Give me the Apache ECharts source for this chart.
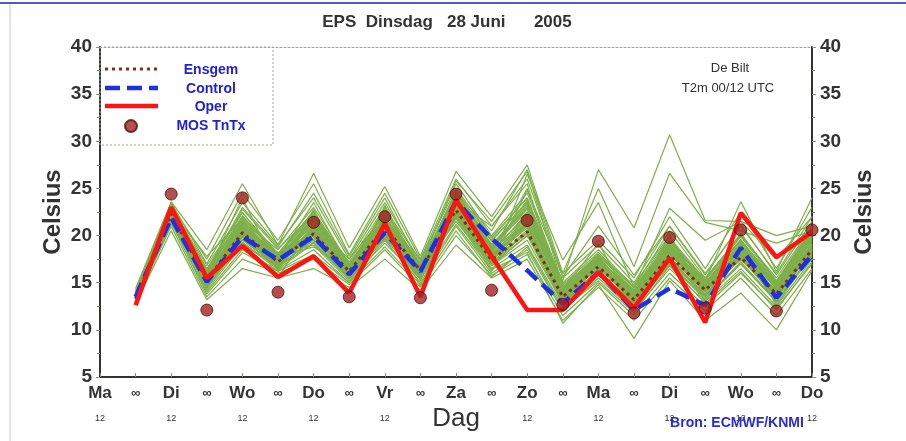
<!DOCTYPE html>
<html>
<head>
<meta charset="utf-8">
<script src="https://cdn.jsdelivr.net/npm/echarts@6/dist/echarts.min.js"></script>
<style>
html,body{margin:0;padding:0;background:#fff;}
#c{width:906px;height:441px;}
</style>
</head>
<body>
<div id="c"></div>
<script>
// ---- data ----
const categories = ["Ma","∞","Di","∞","Wo","∞","Do","∞","Vr","∞","Za","∞","Zo","∞","Ma","∞","Di","∞","Wo","∞","Do"];
const subLabels  = ["12","","12","","12","","12","","12","","","","12","","12","","12","","12","","12"];
const yTicks = [5,10,15,20,25,30,35,40];

const ensgem  = [null,13.3,22.3,15.3,20.3,17.2,20.2,16.2,20.9,16.3,22.7,17.4,20.4,13.5,16.7,13.2,17.9,14.2,17.7,13.8,18.5];
const control = [null,13.5,21.9,15.1,19.9,17.4,19.9,15.9,20.3,16.2,23.6,19.7,16.3,12.8,16.1,12.1,14.4,12.6,18.7,13.4,17.9];
const oper    = [null,12.6,23.0,15.5,18.9,15.6,17.8,13.9,21.3,13.5,23.8,17.8,12.1,12.1,16.1,12.3,17.6,10.8,22.4,17.7,20.4];
const mosTnTx = [null,null,24.4,12.1,24.0,14.0,21.4,13.5,22.0,13.4,24.4,14.2,21.6,12.7,19.4,11.8,19.8,12.3,20.6,12.0,20.6];

// ensemble members (values from the first 00 UTC step onwards)
const ensembleMembers = [
 [13.5,22.5,15.0,21.0,17.5,21.5,16.2,21.5,16.0,23.5,18.0,21.0,13.0,17.0,13.0,18.5,14.0,18.0,14.0,19.0],
 [13.0,21.8,14.5,19.5,16.8,19.5,15.5,20.0,15.5,22.0,16.5,19.0,12.5,16.0,12.5,17.0,13.5,17.0,13.0,18.0],
 [13.8,23.0,16.0,22.0,18.0,22.5,16.8,22.0,16.8,24.5,19.0,22.5,14.0,17.5,14.0,19.0,14.8,19.0,14.5,19.5],
 [12.9,21.5,14.0,18.5,16.3,18.5,15.0,19.5,15.0,21.0,16.0,18.5,12.0,15.5,12.0,16.5,13.0,16.5,12.5,17.5],
 [14.0,23.5,17.0,23.5,19.0,24.0,17.5,23.5,17.2,25.5,20.0,24.5,15.0,18.5,14.5,20.5,15.5,20.0,15.5,21.0],
 [13.3,22.0,15.5,20.5,17.0,20.5,16.5,21.0,16.5,23.0,17.0,20.0,13.5,16.5,13.5,18.0,14.5,18.5,14.0,18.5],
 [13.6,22.8,16.5,21.5,18.5,23.0,17.0,22.5,17.0,24.0,19.5,23.5,14.5,18.0,14.0,19.5,15.0,19.5,15.0,20.0],
 [13.1,21.0,13.5,17.5,16.0,17.5,14.8,18.5,14.5,20.0,15.8,18.0,11.5,15.0,11.5,16.0,12.5,16.0,12.3,17.0],
 [14.2,23.2,17.5,24.5,19.5,25.5,18.0,24.5,17.5,26.0,21.0,26.0,15.5,19.0,15.0,21.0,16.0,21.0,16.0,22.0],
 [13.4,22.2,14.8,20.0,17.2,20.0,15.8,20.5,15.8,22.5,17.5,21.5,13.0,17.2,13.5,18.2,14.2,18.0,13.5,18.8],
 [13.7,22.6,15.8,21.2,17.8,21.0,16.4,21.8,16.4,23.8,18.5,22.0,14.2,16.8,12.8,17.5,13.8,17.5,14.2,19.2],
 [12.8,20.5,13.2,16.5,15.5,16.5,14.5,17.5,14.2,19.0,15.5,17.5,11.0,14.5,11.0,15.5,12.0,15.5,11.5,16.5],
 [14.4,23.6,18.5,25.5,19.0,26.6,18.7,25.2,17.8,26.8,22.0,27.5,16.0,19.5,15.5,22.0,16.5,22.5,16.5,23.0],
 [13.2,22.4,15.2,19.8,16.5,21.8,16.0,21.2,16.6,24.2,18.2,25.0,14.5,18.0,14.5,19.0,15.5,19.5,14.5,20.5],
 [13.5,21.6,16.2,20.8,18.2,19.0,15.2,19.8,16.2,21.5,16.8,19.5,12.8,15.8,12.2,17.2,13.2,17.0,13.0,17.8],
 [13.0,22.0,14.2,19.0,16.8,22.0,17.2,23.0,15.2,22.8,17.8,21.8,13.8,16.4,13.8,18.8,14.6,20.2,15.2,20.2],
 [13.9,23.0,16.8,22.5,17.6,23.5,16.6,22.8,17.4,25.0,19.8,24.0,13.2,17.8,14.8,20.0,13.5,18.8,13.8,19.8],
 [13.4,22.1,15.6,20.6,17.4,20.8,16.1,21.1,16.1,23.2,18.8,23.0,15.2,27.0,20.8,30.7,21.6,21.5,20.0,21.0],
 [13.6,22.7,15.4,21.8,17.0,20.0,15.6,20.2,15.6,22.2,17.2,24.8,16.0,25.0,16.7,26.6,21.4,20.5,19.2,20.5],
 [13.2,22.2,15.0,20.2,16.6,19.8,16.0,20.6,16.0,22.0,17.0,26.5,17.4,23.5,14.5,22.9,19.5,21.5,17.5,22.0],
 [13.3,21.9,14.6,19.2,16.4,19.2,15.4,19.2,15.4,21.2,16.4,18.2,10.7,14.8,9.1,15.2,11.0,13.9,10.0,16.3],
 [13.8,22.9,16.4,22.8,18.6,22.2,16.9,21.9,16.9,24.6,20.5,27.0,15.6,21.0,15.8,21.0,15.8,21.2,15.8,21.5],
 [13.1,21.4,13.8,18.2,16.2,18.0,15.0,18.8,14.8,20.5,15.6,18.8,12.2,15.2,11.8,16.8,12.8,16.2,12.1,17.2],
 [13.5,22.3,15.3,20.4,17.1,20.4,16.2,20.8,16.3,22.9,17.5,20.2,13.5,16.6,13.3,18.0,14.3,17.8,13.9,18.6],
 [12.9,21.2,16.0,23.0,18.8,24.5,17.8,24.0,16.8,25.8,21.5,26.8,14.8,17.6,12.6,19.4,13.0,18.4,12.8,19.0],
 [13.6,22.6,17.8,21.8,15.6,21.2,17.5,22.2,14.6,23.6,21.0,25.5,13.0,16.0,13.8,18.6,15.2,23.6,16.2,24.0],
 [13.2,22.0,14.4,20.8,17.8,18.8,16.6,19.6,15.9,21.8,16.2,22.5,14.2,19.2,12.4,20.2,12.4,19.2,12.6,18.2],
 [14.0,23.4,15.9,24.0,16.2,22.8,15.4,23.2,16.2,24.8,18.6,21.2,12.6,17.4,14.2,17.6,13.6,18.6,14.6,20.8],
 [13.4,22.4,15.1,20.1,17.3,20.6,16.3,21.3,16.2,23.3,17.9,20.8,13.6,16.9,13.1,18.3,14.1,17.6,13.7,18.4],
 [13.3,22.1,15.4,20.7,17.0,20.1,15.9,20.7,16.4,22.6,17.4,21.4,13.3,16.2,12.9,17.6,14.4,17.4,14.0,18.7],
 [13.4,22.6,15.6,21.4,17.6,21.8,16.6,21.6,16.6,24.0,18.6,22.8,14.0,17.4,13.6,18.6,14.6,18.8,14.4,19.6],
 [13.2,21.9,14.9,20.6,17.1,20.9,16.0,20.9,15.9,22.9,17.6,21.6,13.4,16.8,13.0,17.8,14.0,18.2,13.6,18.9],
 [13.7,22.9,16.2,22.1,17.9,22.3,16.8,22.3,16.9,24.4,19.4,23.6,14.6,17.9,14.2,19.6,15.2,19.9,15.1,20.6],
 [13.1,21.7,14.6,19.6,16.7,19.6,15.6,20.1,15.6,22.3,17.1,20.6,13.1,16.3,12.7,17.3,13.6,17.6,13.3,18.3],
 [13.5,22.4,15.2,20.9,17.4,21.4,16.3,21.4,16.3,23.6,18.3,22.2,13.8,17.1,13.4,18.4,14.4,18.6,14.3,19.4],
 [13.6,22.8,15.9,21.6,17.7,21.9,16.7,21.9,16.7,23.9,18.9,23.2,14.3,17.6,13.9,19.1,14.8,19.3,14.7,20.1],
 [13.3,22.1,15.1,20.3,17.0,20.7,15.9,20.7,16.0,22.7,17.7,21.2,13.2,16.6,13.2,17.7,14.1,17.9,13.8,18.7],
 [13.8,23.1,16.4,22.4,18.1,22.6,16.9,22.6,16.9,24.6,19.7,24.0,14.8,18.2,14.4,19.8,15.3,20.2,15.2,20.8],
 [13.0,21.6,14.4,19.3,16.6,19.3,15.4,19.7,15.4,21.9,16.8,20.0,12.8,15.9,12.4,16.9,13.3,17.2,13.1,17.9],
 [13.4,22.5,15.5,21.1,17.5,21.2,16.4,21.1,16.4,23.4,18.1,22.4,13.9,17.3,13.7,18.7,14.5,18.9,14.6,19.8],
 [13.5,22.3,15.7,20.7,17.3,21.6,16.5,21.7,16.2,23.1,18.4,23.8,14.4,17.8,13.5,18.9,14.9,19.6,14.8,20.3],
 [13.2,22.0,14.8,20.0,16.9,20.3,15.8,20.4,15.8,22.4,17.3,21.0,13.6,17.0,13.1,18.1,14.3,18.4,13.9,19.1],
 [13.6,22.7,16.1,21.9,17.9,22.1,16.6,22.0,16.7,24.2,19.1,22.9,14.1,17.5,14.1,19.3,15.0,19.0,14.9,20.4],
 [13.3,22.2,15.3,20.5,17.2,20.9,16.1,21.0,16.1,23.0,17.9,22.0,13.7,17.2,13.4,18.2,14.2,18.1,14.1,19.0],
 [13.7,22.6,15.8,21.3,17.5,21.7,16.4,21.5,16.5,23.7,18.7,23.4,14.2,17.7,13.8,18.9,14.7,19.1,14.5,19.9],
 [13.1,21.8,14.7,19.9,16.8,20.2,15.7,20.3,15.7,22.1,17.0,20.4,12.9,16.1,12.8,17.4,13.7,17.8,13.4,18.5]
];

// ---- chart ----
const chart = echarts.init(document.getElementById('c'), null, {renderer:'canvas'});

const memberSeries = ensembleMembers.map((m, i) => ({
  name: 'member' + i,
  type: 'line',
  data: [null].concat(m),
  symbol: 'none',
  silent: true,
  lineStyle: {color: '#7db04a', width: 1.2},
  z: 1,
  animation: false
}));

const fontFam = '"Liberation Sans", Arial, Helvetica, sans-serif';

const yAxisCommon = {
  type: 'value', min: 5, max: 40, interval: 5,
  splitLine: {show: false},
  axisLine: {show: true, lineStyle: {color: '#333', width: 2}},
  axisTick: {show: true, length: 4, lineStyle: {color: '#7a9a70'}},
  minorTick: {show: true, splitNumber: 2, length: 3, lineStyle: {color: '#7a9a70'}},
  axisLabel: {color: '#333', fontSize: 19, fontWeight: 'bold', fontFamily: fontFam, margin: 8,
    formatter: v => (yTicks.indexOf(v) >= 0 ? String(v) : '')}
};

const ensStyle = {color: '#8a2a1c', width: 3, type: [3, 4]};
const ctlStyle = {color: '#1f2fe6', width: 4.5, type: [15, 7]};
const opStyle  = {color: '#ff1414', width: 4.5};

const option = {
  animation: false,
  backgroundColor: '#fff',
  grid: {left: 100, right: 94, top: 47, bottom: 64},
  legend: {
    data: [
      {name: 'Ensgem', icon: 'none'},
      {name: 'Control', icon: 'none'},
      {name: 'Oper', icon: 'none'},
      {name: 'MOS TnTx'}
    ],
    orient: 'vertical',
    left: 104, top: 63,
    itemWidth: 54, itemHeight: 12, itemGap: 4.7,
    padding: 0,
    textStyle: {
      fontFamily: fontFam,
      rich: {n: {width: 96, align: 'center', color: '#2020d8', fontSize: 14, fontWeight: 'bold', fontFamily: fontFam, lineHeight: 12}}
    },
    formatter: name => '{n|' + name + '}'
  },
  xAxis: [{
    type: 'category', data: categories, boundaryGap: false,
    axisLine: {show: true, lineStyle: {color: '#333', width: 2}},
    axisTick: {show: true, inside: true, length: 4, lineStyle: {color: '#7a9a70'}},
    splitLine: {show: false},
    axisLabel: {
      interval: 0, margin: 6,
      formatter: (v, i) => v === '∞'
        ? '{o|∞}'
        : '{d|' + v + '}\n{s|' + subLabels[i] + '}',
      rich: {
        d: {fontSize: 17, fontWeight: 'bold', color: '#333', fontFamily: fontFam, lineHeight: 20},
        o: {fontSize: 13, fontWeight: 'bold', color: '#333', fontFamily: fontFam, lineHeight: 20},
        s: {fontSize: 9, color: '#333', fontFamily: fontFam, lineHeight: 32, verticalAlign: 'middle'}
      }
    }
  }, {
    type: 'category', data: categories, boundaryGap: false, position: 'top',
    axisLine: {show: true, lineStyle: {color: '#9aa89a', width: 1, type: [2, 2]}},
    axisTick: {show: false}, axisLabel: {show: false}
  }],
  yAxis: [
    Object.assign({}, yAxisCommon, {position: 'left'}),
    Object.assign({}, yAxisCommon, {position: 'right'})
  ],
  series: memberSeries.concat([
    {name: 'Ensgem', type: 'line', data: ensgem, symbol: 'none', z: 3, lineStyle: ensStyle, itemStyle: {color: ensStyle.color}},
    {name: 'Control', type: 'line', data: control, symbol: 'none', z: 4, lineStyle: ctlStyle, itemStyle: {color: ctlStyle.color}},
    {name: 'Oper', type: 'line', data: oper, symbol: 'none', z: 5, lineStyle: opStyle, itemStyle: {color: opStyle.color}},
    {
      name: 'MOS TnTx', type: 'scatter', data: mosTnTx, symbol: 'circle', symbolSize: 12, z: 6,
      itemStyle: {color: '#a52222', borderColor: '#4a1010', borderWidth: 1}
    }
  ]),
  graphic: [
    {type: 'line', shape: {x1: 0, y1: 3, x2: 906, y2: 3}, style: {stroke: '#4a5ad8', lineWidth: 2}, silent: true},
    {type: 'line', shape: {x1: 10, y1: 4, x2: 10, y2: 441}, style: {stroke: '#c8c8c8', lineWidth: 1}, silent: true},
    {type: 'rect', shape: {x: 100, y: 47, width: 173, height: 98}, z: 100,
      style: {fill: 'none', stroke: '#9aaa90', lineWidth: 1, lineDash: [2, 2]}, silent: true},
    {type: 'line', shape: {x1: 105, y1: 69, x2: 158, y2: 69}, z: 100,
      style: {stroke: ensStyle.color, lineWidth: ensStyle.width, lineDash: ensStyle.type}, silent: true},
    {type: 'line', shape: {x1: 105, y1: 88, x2: 158, y2: 88}, z: 100,
      style: {stroke: ctlStyle.color, lineWidth: ctlStyle.width, lineDash: ctlStyle.type}, silent: true},
    {type: 'line', shape: {x1: 105, y1: 106, x2: 158, y2: 106}, z: 100,
      style: {stroke: opStyle.color, lineWidth: opStyle.width}, silent: true},
    {type: 'text', x: 447, y: 22, z: 100,
      style: {text: 'EPS  Dinsdag   28 Juni      2005', font: 'bold 17px ' + fontFam, fill: '#333',
        textAlign: 'center', textVerticalAlign: 'middle'}},
    {type: 'text', x: 730, y: 68, z: 100,
      style: {text: 'De Bilt', font: '13px ' + fontFam, fill: '#333', textAlign: 'center', textVerticalAlign: 'middle'}},
    {type: 'text', x: 728, y: 88, z: 100,
      style: {text: 'T2m 00/12 UTC', font: '13px ' + fontFam, fill: '#333', textAlign: 'center', textVerticalAlign: 'middle'}},
    {type: 'text', x: 53, y: 212, rotation: Math.PI / 2, z: 100,
      style: {text: 'Celsius', font: 'bold 24px ' + fontFam, fill: '#333', textAlign: 'center', textVerticalAlign: 'middle'}},
    {type: 'text', x: 864, y: 212, rotation: Math.PI / 2, z: 100,
      style: {text: 'Celsius', font: 'bold 24px ' + fontFam, fill: '#333', textAlign: 'center', textVerticalAlign: 'middle'}},
    {type: 'text', x: 456, y: 419, z: 100,
      style: {text: 'Dag', font: '26px ' + fontFam, fill: '#333', textAlign: 'center', textVerticalAlign: 'middle'}},
    {type: 'text', x: 737, y: 423, z: 100,
      style: {text: 'Bron: ECMWF/KNMI', font: 'bold 14px ' + fontFam, fill: '#2a2ad8', textAlign: 'center', textVerticalAlign: 'middle'}}
  ]
};

chart.setOption(option);
</script>
</body>
</html>
